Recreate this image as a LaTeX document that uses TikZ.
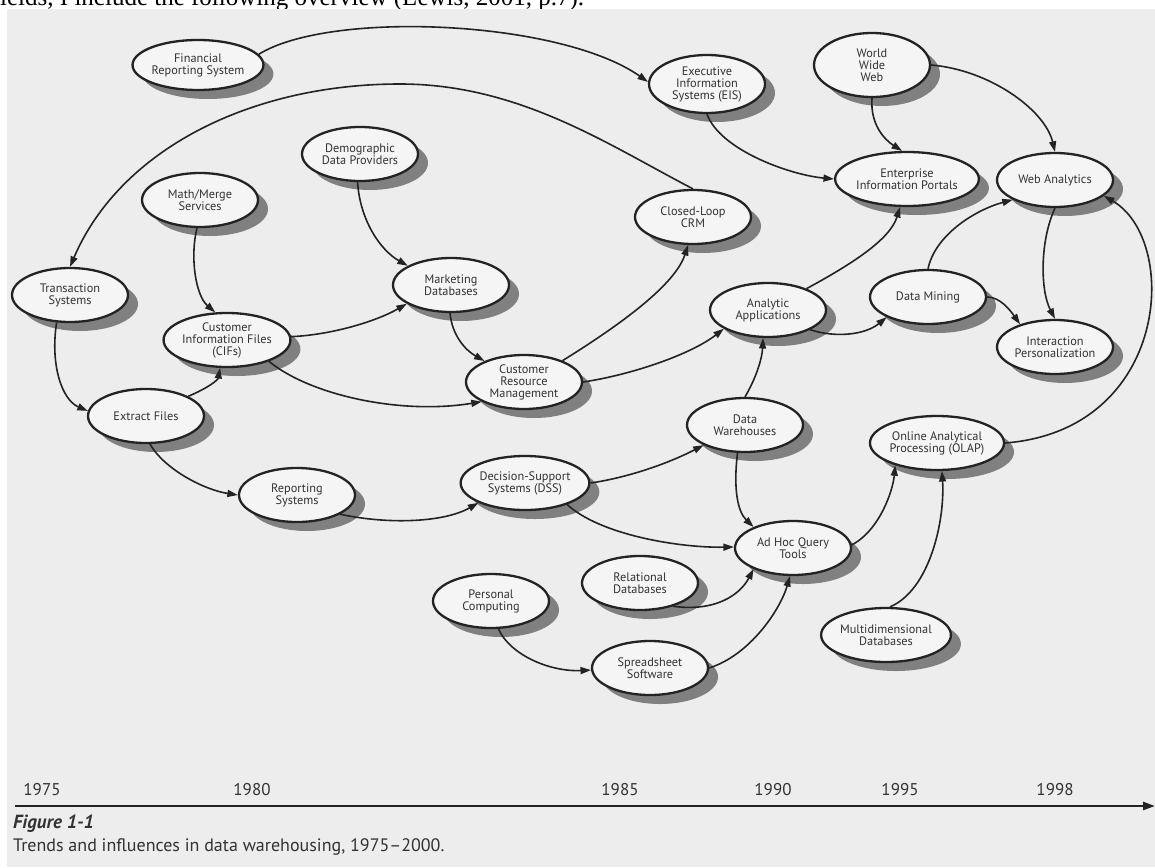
\documentclass[tikz,border=0pt]{standalone}
\usepackage{fontspec}
\newfontfamily\labelfont{PT Sans}
\newfontfamily\pagefont{Liberation Serif}
\usetikzlibrary{arrows.meta,shadows,shapes.geometric}
\definecolor{paper}{RGB}{237,237,237}
\definecolor{bubble}{RGB}{245,245,245}
\definecolor{shade}{RGB}{128,128,128}
\definecolor{ink}{RGB}{35,35,35}
\definecolor{txt}{RGB}{50,50,50}

\begin{document}
\begin{tikzpicture}[x=1pt,y=-1pt,
  topic/.style={ellipse, draw=ink, line width=2.3pt, fill=bubble,
    minimum width=116pt, minimum height=54pt, inner sep=0pt,
    align=center, text=txt,
    font=\labelfont\fontsize{12.3}{12}\selectfont,
    drop shadow={shadow xshift=10pt,shadow yshift=-9pt,fill=shade,opacity=1}},
  link/.style={draw=ink, line width=1.6pt, -{Triangle[length=10.5pt,width=7pt]}},
  year/.style={text=txt, font=\labelfont\fontsize{17}{17}\selectfont, inner sep=0pt}]

\useasboundingbox (0,0) rectangle (1155,867);
\clip (0,0) rectangle (1155,867);
\fill[white] (0,0) rectangle (1155,867);
\node[anchor=base west, inner sep=0pt, font=\pagefont\fontsize{25}{25}\selectfont] (pageline) at (0,6)
  {ields, I include the following overview (Lewis, 2001, p.7).};
\fill[paper] (7,9) rectangle (1155,867);

% ---- topics ----
\node[topic, minimum width=112pt, minimum height=50pt] (FRS) at (198,65) {Financial\\Reporting System};
\node[topic, minimum height=58pt] (EIS) at (707,84) {Executive\\Information\\Systems (EIS)};
\node[topic, minimum height=64pt] (WWW) at (872,65) {World\\Wide\\Web};
\node[topic] (EIP) at (907,179) {Enterprise\\Information Portals};
\node[topic] (WA) at (1055,180) {Web Analytics};
\node[topic] (TS) at (70,295) {Transaction\\Systems};
\node[topic] (MM) at (200,200) {Math/Merge\\Services};
\node[topic] (DDP) at (360,154) {Demographic\\Data Providers};
\node[topic] (CIF) at (227,340) {Customer\\Information Files\\(CIFs)};
\node[topic] (EF) at (146,416) {Extract Files};
\node[topic] (RS) at (297,495) {Reporting\\Systems};
\node[topic] (MD) at (451,285) {Marketing\\Databases};
\node[topic] (CRM) at (524,382) {Customer\\Resource\\Management};
\node[topic] (CL) at (693,217) {Closed-Loop\\CRM};
\node[topic] (AA) at (768,310) {Analytic\\Applications};
\node[topic] (DM) at (928,297) {Data Mining};
\node[topic] (IP) at (1055,347) {Interaction\\Personalization};
\node[topic] (DW) at (745,425) {Data\\Warehouses};
\node[topic, minimum width=120pt] (OLAP) at (937,443) {Online Analytical\\Processing (OLAP)};
\node[topic, minimum width=118pt] (DSS) at (525,483) {Decision-Support\\Systems (DSS)};
\node[topic] (AHQ) at (793,548) {Ad Hoc Query\\Tools};
\node[topic] (RD) at (640,583) {Relational\\Databases};
\node[topic] (PC) at (491,601) {Personal\\Computing};
\node[topic] (SS) at (650,668) {Spreadsheet\\Software};
\node[topic] (MDD) at (886,635) {Multidimensional\\Databases};

% ---- influences ----
\draw[link] (FRS.10) .. controls (330,10) and (560,20) .. (EIS.178);
\draw[link] (CL.north) .. controls (610,146) and (520,84) .. (400,84)
            .. controls (250,84) and (120,150) .. (TS.north);
\draw[link] (TS.244) .. controls (50,365) and (62,400) .. (EF.175);
\draw[link] (EF.25) .. controls (208,388) and (218,380) .. (CIF.256);
\draw[link] (MM.264) .. controls (190,255) and (195,295) .. (CIF.113);
\draw[link] (CIF.3) .. controls (330,335) and (375,322) .. (MD.203);
\draw[link] (CIF.333) .. controls (310,395) and (400,415) .. (CRM.205);
\draw[link] (DDP.265) .. controls (360,220) and (380,250) .. (MD.156);
\draw[link] (MD.268) .. controls (452,335) and (465,350) .. (CRM.152);
\draw[link] (CRM.29) .. controls (620,325) and (675,285) .. (CL.260);
\draw[link] (CRM.east) .. controls (630,375) and (690,355) .. (AA.203);
\draw[link] (EF.278) .. controls (165,470) and (205,490) .. (RS.180);
\draw[link] (RS.336) .. controls (390,525) and (445,522) .. (DSS.203);
\draw[link] (DSS.east) .. controls (625,478) and (665,465) .. (DW.206);
\draw[link] (DSS.333) .. controls (600,535) and (680,548) .. (AHQ.179);
\draw[link] (DW.north) .. controls (755,380) and (762,360) .. (AA.260);
\draw[link] (DW.255) .. controls (733,490) and (738,512) .. (AHQ.152);
\draw[link] (RD.325) .. controls (715,612) and (740,595) .. (AHQ.208);
\draw[link] (PC.285) .. controls (510,655) and (550,672) .. (SS.182);
\draw[link] (SS.east) .. controls (750,655) and (780,610) .. (AHQ.264);
\draw[link] (AHQ.3) .. controls (880,530) and (893,490) .. (OLAP.208);
\draw[link] (MDD.82) .. controls (930,590) and (945,520) .. (OLAP.280);
\draw[link] (OLAP.east) .. controls (1170,430) and (1180,240) .. (WA.342);
\draw[link] (AA.29) .. controls (850,265) and (890,240) .. (EIP.256);
\draw[link] (AA.335) .. controls (835,338) and (865,335) .. (DM.206);
\draw[link] (DM.north) .. controls (935,235) and (975,210) .. (WA.205);
\draw[link] (DM.east) .. controls (1000,297) and (1010,310) .. (IP.147);
\draw[link] (WA.south) .. controls (1040,240) and (1040,290) .. (IP.north);
\draw[link] (WWW.south) .. controls (870,125) and (885,140) .. (EIP.100);
\draw[link] (WWW.east) .. controls (990,70) and (1045,110) .. (WA.north);
\draw[link] (EIS.south) .. controls (720,150) and (790,175) .. (EIP.west);

% ---- time line ----
\coordinate (tstart) at (15,806);
\coordinate (tend) at (1155,806);
\draw[ink, line width=2.4pt, -{Triangle[length=12pt,width=8pt]}] (tstart) -- (tend);
\node[year] (y75) at (42,790) {1975};
\node[year] (y80) at (252,790) {1980};
\node[year] (y85) at (620,790) {1985};
\node[year] (y90) at (773,790) {1990};
\node[year] (y95) at (900,790) {1995};
\node[year] (y98) at (1055,790) {1998};

\node[anchor=west, inner sep=0pt, text=txt,
  font=\labelfont\bfseries\itshape\fontsize{19}{19}\selectfont] (figno) at (13,824) {Figure 1-1};
\node[anchor=west, inner sep=0pt, text=txt,
  font=\labelfont\fontsize{18}{18}\selectfont] (figcap) at (13,847)
  {Trends and influences in data warehousing, 1975–2000.};
\end{tikzpicture}
\end{document}
